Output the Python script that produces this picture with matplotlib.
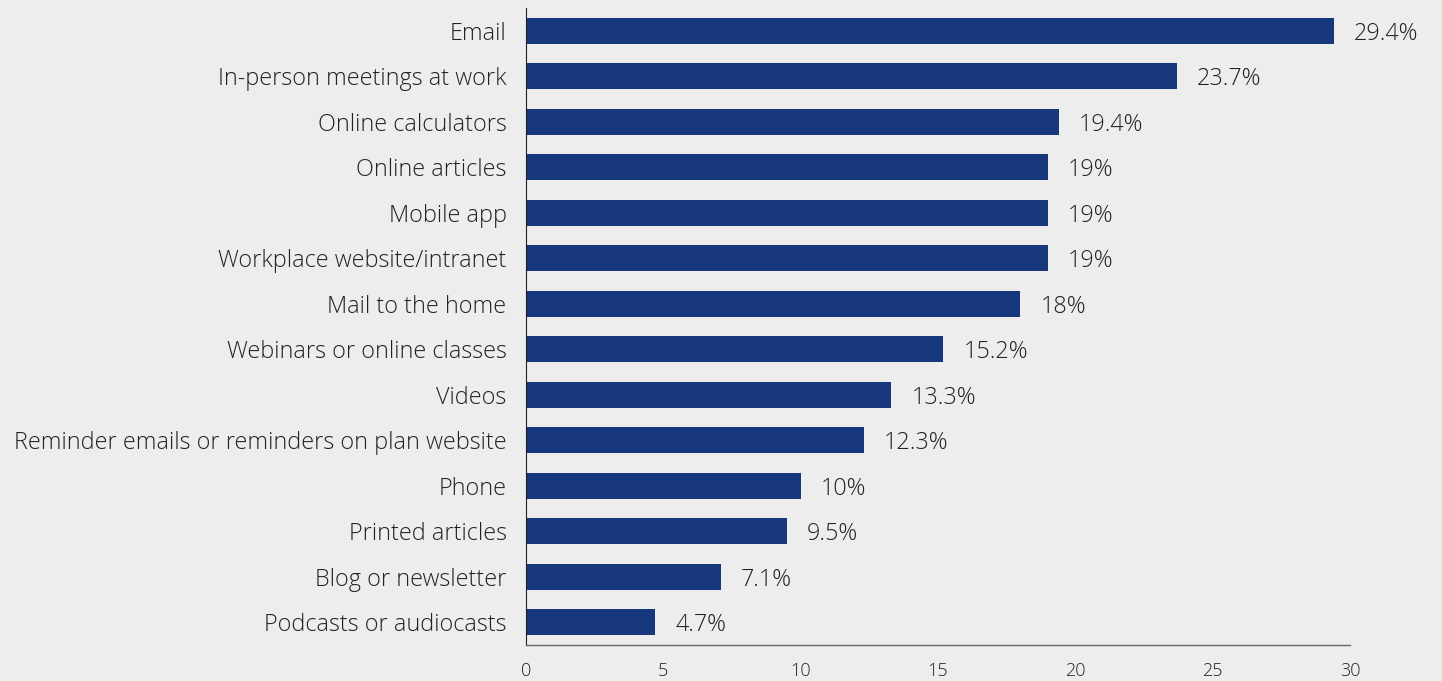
import matplotlib
matplotlib.use("Agg")
import matplotlib.pyplot as plt
from matplotlib.transforms import offset_copy

categories = ["Email", "In-person meetings at work", "Online calculators", "Online articles",
              "Mobile app", "Workplace website/intranet", "Mail to the home",
              "Webinars or online classes", "Videos",
              "Reminder emails or reminders on plan website", "Phone", "Printed articles",
              "Blog or newsletter", "Podcasts or audiocasts"]
values = [29.4, 23.7, 19.4, 19, 19, 19, 18, 15.2, 13.3, 12.3, 10, 9.5, 7.1, 4.7]
value_labels = ["29.4%", "23.7%", "19.4%", "19%", "19%", "19%", "18%", "15.2%", "13.3%",
                "12.3%", "10%", "9.5%", "7.1%", "4.7%"]
xticks = [0, 5, 10, 15, 20, 25, 30]

bg = "#EDEDED"
bar_color = "#17377D"
text_color = "#222222"

plt.rcParams['font.family'] = ['Open Sans', 'DejaVu Sans']
plt.rcParams['font.weight'] = 300

fig = plt.figure(figsize=(14.42, 6.81), dpi=100, facecolor=bg)
ax = fig.add_axes([526/1442, 36/681, (1350-526)/1442, (645-8)/681])
ax.set_facecolor(bg)

ypos = list(range(len(categories)))
ax.barh(ypos, values, height=0.57, color=bar_color)
ax.set_ylim(len(categories) - 0.5, -0.5)
ax.set_xlim(0, 30)

ax.set_yticks(ypos)
ax.set_yticklabels(categories, fontsize=16.8, color=text_color, fontweight=300)
ax.set_xticks(xticks)
ax.set_xticklabels([str(t) for t in xticks], fontsize=13, color=text_color, fontweight=300)
ax.tick_params(axis='y', length=0, pad=14)
ax.tick_params(axis='x', length=0, pad=12)

for s in ['top', 'right']:
    ax.spines[s].set_visible(False)
ax.spines['left'].set_color('#222222')
ax.spines['left'].set_linewidth(0.8)
ax.spines['bottom'].set_color('#666666')
ax.spines['bottom'].set_linewidth(1.0)

trans = offset_copy(ax.transData, fig=fig, x=20, y=-3, units='dots')
for y, v, lab in zip(ypos, values, value_labels):
    ax.text(v, y, lab, transform=trans, va='center', ha='left', fontsize=16.8,
            color=text_color, fontweight=300)

fig.savefig("out.png", dpi=100, facecolor=bg)
